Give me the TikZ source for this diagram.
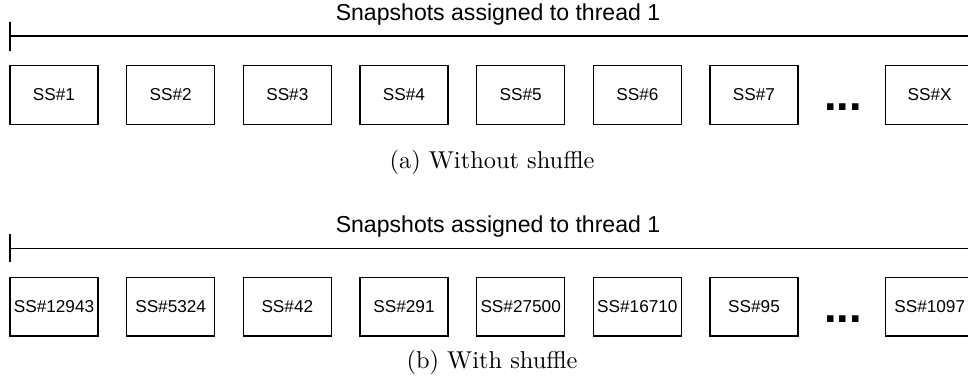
\documentclass[tikz,border=0pt]{standalone}
\usepackage{graphicx}
\usepackage{fontspec}
\newfontfamily\arialf{Liberation Sans}
\begin{document}
\begin{tikzpicture}[x=0.75pt,y=-0.75pt,
  ssbox/.style={draw, line width=0.9pt, minimum width=66pt, minimum height=44pt,
    inner sep=0pt, font=\arialf\fontsize{12.9}{15}\selectfont},
  ttl/.style={inner sep=0pt, font=\arialf\fontsize{17.3}{20}\selectfont},
  capt/.style={inner sep=0pt, font=\fontsize{10}{12}\selectfont},
  dotsnode/.style={inner sep=0pt, font=\arialf\bfseries\fontsize{34}{36}\selectfont},
  rule/.style={line width=0.9pt}]
\useasboundingbox (0,0) rectangle (968,385);

% ---------- (a) ----------
\node[ttl] (ta) at (498,15) {Snapshots assigned to thread 1};
\coordinate (la0) at (10,36);
\coordinate (la1) at (990,36);
\coordinate (ka0) at (10,22.3);
\coordinate (ka1) at (10,51);
\draw[rule] (la0) -- (la1);
\draw[rule] (ka0) -- (ka1);
\foreach \i/\t in {0/SS\#1,1/SS\#2,2/SS\#3,3/SS\#4,4/SS\#5,5/SS\#6,6/SS\#7}{
  \node[ssbox] (a\i) at ({54+116.67*\i},95) {\t};
}
\node[dotsnode] (ad) at (843,107.6) {...};
\node[ssbox] (ax) at (929.7,95) {SS\#X};
\node[capt] (ca) at (492,162) {\scalebox{1.83}{(a) Without shuffle}};

% ---------- (b) ----------
\node[ttl] (tb) at (498,227) {Snapshots assigned to thread 1};
\coordinate (lb0) at (10,248.3);
\coordinate (lb1) at (990,248.3);
\coordinate (kb0) at (10,234);
\coordinate (kb1) at (10,262.3);
\draw[rule] (lb0) -- (lb1);
\draw[rule] (kb0) -- (kb1);
\foreach \i/\t in {0/SS\#12943,1/SS\#5324,2/SS\#42,3/SS\#291,4/SS\#27500,5/SS\#16710,6/SS\#95}{
  \node[ssbox] (b\i) at ({54+116.67*\i},306.7) {\t};
}
\node[dotsnode] (bd) at (843,319.3) {...};
\node[ssbox] (bx) at (929.7,306.7) {SS\#1097};
\node[capt] (cb) at (492,362) {\scalebox{1.83}{(b) With shuffle}};
\end{tikzpicture}
\end{document}
